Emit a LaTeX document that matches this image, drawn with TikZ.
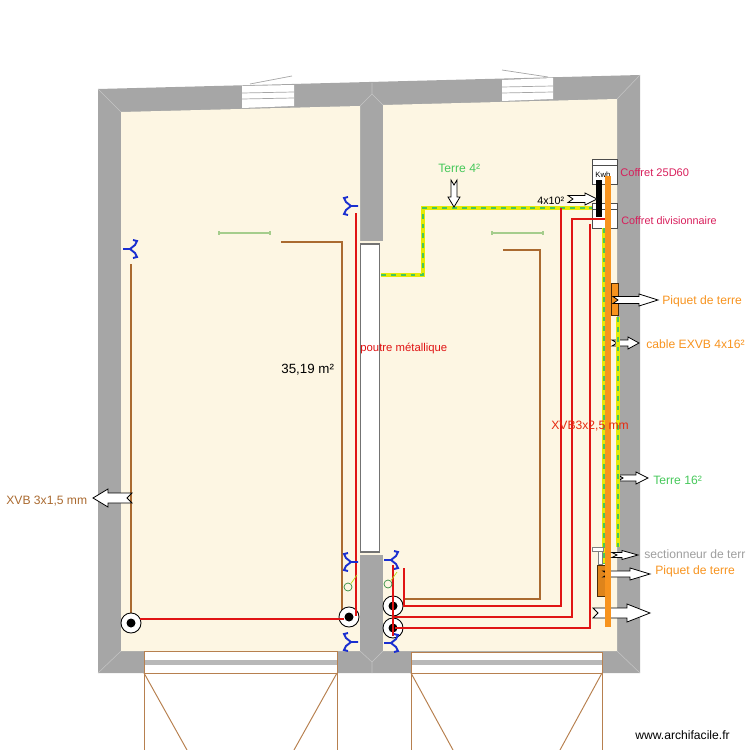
\documentclass[tikz,border=0pt]{standalone}
\usepackage{fontspec}
\setmainfont{Liberation Sans}
\definecolor{murgris}{RGB}{166,166,166}
\definecolor{piece}{RGB}{253,246,227}
\definecolor{cablerouge}{RGB}{224,20,20}
\definecolor{cableorange}{RGB}{247,147,30}
\definecolor{cablebrun}{RGB}{170,106,48}
\definecolor{terrevert}{RGB}{70,200,90}
\definecolor{coffretrose}{RGB}{216,30,91}
\definecolor{interbleu}{RGB}{26,47,208}
\definecolor{lumvert}{RGB}{165,205,140}
\tikzset{
  mitre/.style={draw=murgris!65!white, line width=0.3pt},
  rouge/.style={draw=cablerouge, line width=1.5pt},
  brun/.style={draw=cablebrun, line width=0.6pt},
  terre/.style={draw=terrevert, line width=0.9pt, dash pattern=on 2.8pt off 2.8pt,
    preaction={draw=yellow!90!green, line width=2pt, solid}},
  etiq/.style={anchor=west, inner sep=0pt, font=\fontsize{6.9}{8}\selectfont},
  prise/.style={circle, draw=black, fill=white, line width=0.5pt, minimum size=11.4pt, inner sep=0pt},
  inter/.style={draw=interbleu, line width=1.1pt},
  lum/.style={draw=lumvert, line width=0.7pt},
  fenetre/.style={draw=murgris, fill=white, line width=0.4pt},
  baie/.style={draw=cablebrun!85, line width=0.55pt},
}
% tail x, tail y, angle, length, head length, half head, half shaft
\newcommand{\fleche}[7]{
  \draw[fill=white, line width=0.45pt, shift={(#1,#2)}, rotate=#3]
    (0,-#7) -- (#4-#5,-#7) -- (#4-#5,-#6) -- (#4,0) -- (#4-#5,#6) -- (#4-#5,#7) -- (0,#7) -- (5,0) -- cycle;
}
% x, y, 1 = arms to the left, -1 = arms to the right
\newcommand{\interr}[3]{
  \draw[inter, shift={(#1,#2)}, xscale=#3]
    (7,0) -- (0,0) (-3,-9) -- (-7,-8) -- (-5,-4) -- (0,0) -- (-5,4) -- (-7,8) -- (-3,9);
}
\newcommand{\pastille}[1]{
  \fill[black] (#1) circle[radius=4.5];
}
\begin{document}
\begin{tikzpicture}[x=0.02cm,y=-0.02cm]
\useasboundingbox (0,0) rectangle (750,750);

% Walls and rooms
\fill[murgris] (98,89) -- (640,75) -- (640,673) -- (98,673) -- cycle;
\fill[piece] (121,112) -- (360,106) -- (360,651) -- (121,651) -- cycle;
\fill[piece] (383,105) -- (617,99) -- (617,651) -- (383,651) -- cycle;
\fill[piece] (359,241) rectangle (384,555);
\fill[murgris] (360,555) rectangle (383,651);
\draw[mitre] (98,89) -- (121,112);
\draw[mitre] (640,75) -- (617,99);
\draw[mitre] (98,673) -- (121,651);
\draw[mitre] (640,673) -- (617,651);
\draw[mitre] (372,83) -- (372,94) (360,106) -- (372,94) -- (383,105);
\draw[mitre] (372,673) -- (372,662) (360,651) -- (372,662) -- (383,651);

% Beam
\draw[draw=black!55, fill=white, line width=0.6pt] (360.5,244) rectangle (379.5,552);

% Top windows
\fill[white] (242,86) -- (294,85) -- (294,106) -- (242,108) -- cycle;
\draw[fenetre, fill=none] (242,93) -- (294,92) (242,99) -- (294,98);
\draw[fenetre] (250,84) -- (292,76);
\fill[white] (502,80) -- (553,78) -- (553,99) -- (502,101) -- cycle;
\draw[fenetre, fill=none] (502,87) -- (553,86) (502,93) -- (553,92);
\draw[fenetre] (502,70) -- (548,77);

% Bottom windows
\fill[white] (144,651) rectangle (337,673);
\fill[black!28] (144,660) rectangle (337,665);
\draw[baie] (144,750) -- (144,651) -- (337,651) -- (337,750);
\draw[baie] (144,673) -- (337,673);
\draw[baie] (144,673) -- (187,750) (337,673) -- (294,750);
\fill[white] (411,652) rectangle (602,673);
\fill[black!28] (411,660) rectangle (602,665);
\draw[baie] (411,750) -- (411,652) -- (602,652) -- (602,750);
\draw[baie] (411,673) -- (602,673);
\draw[baie] (411,673) -- (453,750) (602,673) -- (560,750);

% Lights
\draw[lum] (219,233) -- (270,233) (219,231) -- (219,235) (270,231) -- (270,235);
\draw[lum] (492,233) -- (543,233) (492,231) -- (492,235) (543,231) -- (543,235);

% Boxes
\draw[fill=white, draw=black!70, line width=0.5pt] (592,159) rectangle (617,184);
\draw[draw=black!70, line width=0.5pt] (592,165) -- (617,165);
\node[inner sep=0pt, font=\fontsize{4.4}{5}\selectfont] (kwh) at (603,174.5) {Kwh};
\draw[fill=white, draw=black!70, line width=0.5pt] (592,203) rectangle (617,228);
\draw[draw=black!70, line width=0.5pt] (592,209) -- (617,209);

% Brown cables
\draw[brun] (281,242) -- (342,242) -- (342,610);
\draw[brun] (503,250) -- (540,250) -- (540,599) -- (404,599);
\draw[brun] (131,264) -- (131,613);

% Earth cables
\draw[terre] (381,275) -- (423,275) -- (423,208) -- (592,208);
\draw[terre] (604,228) -- (604,563);

% Outlets
\node[prise] (p1) at (131,623) {};
\node[prise] (p2) at (349,617) {};
\node[prise] (p3) at (393,606) {};
\node[prise] (p4) at (393,628) {};
\pastille{p1}
\pastille{p2}
\pastille{p3}
\pastille{p4}

% Red cables
\draw[rouge] (140,619) -- (344,619);
\draw[rouge] (356,213) -- (356,616);
\draw[rouge] (393,565) -- (393,636);
\draw[rouge] (404,568) -- (404,606) -- (561,606) -- (561,208);
\draw[rouge] (393,617) -- (572,617) -- (572,219) -- (611,219);
\draw[rouge] (395,628) -- (590,628) -- (590,224);

% Switches
\interr{351}{206}{1}
\interr{130}{249}{-1}
\interr{351}{562}{1}
\interr{351}{642}{1}
\interr{391}{560}{-1}
\interr{391}{643}{-1}

% Small green circles
\draw[draw=terrevert!70!black, line width=0.4pt] (348,587) circle[radius=4];
\draw[draw=terrevert!70!black, line width=0.4pt] (388,584) circle[radius=4];
\draw[draw=yellow!70!green, line width=0.4pt] (351,583.5) -- (357,575);
\draw[draw=yellow!70!green, line width=0.4pt] (391,580.5) -- (397,572);

% Earth stakes
\draw[fill=cableorange, draw=black!70!cableorange, line width=0.5pt] (611,283) rectangle (618,315);
\draw[fill=cableorange!90!black, draw=black!70!cableorange, line width=0.5pt] (597,565) rectangle (606,596);

% Section switch
\draw[fill=white, draw=black!50, line width=0.4pt] (598,551) rectangle (602,564);
\draw[fill=white, draw=black!50, line width=0.4pt] (592,547) rectangle (603,551);

% Arrows under the main cable
\fleche{593}{613}{0}{57}{23}{9}{5}
\fleche{603}{574}{0}{47}{20}{6}{3}

% Main cable
\draw[draw=cableorange, line width=2.9pt] (608,176) -- (608,627);
\draw[draw=black, line width=2.9pt] (599,180) -- (599,217);

% Other arrows
\fleche{454}{180}{-90}{27}{10}{6}{3}
\fleche{568}{199}{0}{29}{12}{6}{3.5}
\fleche{613}{300}{0}{45}{19}{6}{3.5}
\fleche{612}{343}{0}{27}{11}{6}{3}
\fleche{618}{478}{0}{30}{12}{6}{3}
\fleche{612}{555}{0}{26}{16}{4.5}{2.5}
\fleche{132}{498}{180}{39}{15}{9}{5}

% Second earth cable
\draw[terre] (618,317) -- (618,547);

% Labels
\node[etiq, text=terrevert] (terre4) at (438,168.5) {Terre 4²};
\node[etiq, text=coffretrose, font=\fontsize{6.3}{8}\selectfont] (coffret) at (620,172.5) {Coffret 25D60};
\node[etiq, text=coffretrose, font=\fontsize{6.15}{8}\selectfont] (divis) at (621,220.5) {Coffret divisionnaire};
\node[etiq, font=\fontsize{6.1}{8}\selectfont] (dix) at (537,200.5) {4x10²};
\node[etiq, text=cableorange] (piquet1) at (662,301.5) {Piquet de terre};
\node[etiq, text=cableorange] (exvb) at (646,344.5) {cable EXVB 4x16²};
\node[etiq, text=cablerouge, font=\fontsize{6.45}{8}\selectfont] (poutre) at (360,348.5) {poutre métallique};
\node[etiq, font=\fontsize{7.6}{9}\selectfont] (surface) at (281,369.5) {35,19 m²};
\node[etiq, text=cablerouge!80!orange] (xvbr) at (551,426.5) {XVB3x2,5 mm};
\node[etiq, text=terrevert] (terre16) at (653,480.5) {Terre 16²};
\node[etiq, text=black!38] (section) at (644,554.5) {sectionneur de terr};
\node[etiq, text=cableorange] (piquet2) at (655,571.5) {Piquet de terre};
\node[etiq, text=cablebrun] (xvbb) at (6,501.5) {XVB 3x1,5 mm};
\node[etiq] (site) at (635,735.5) {www.archifacile.fr};
\end{tikzpicture}
\end{document}
